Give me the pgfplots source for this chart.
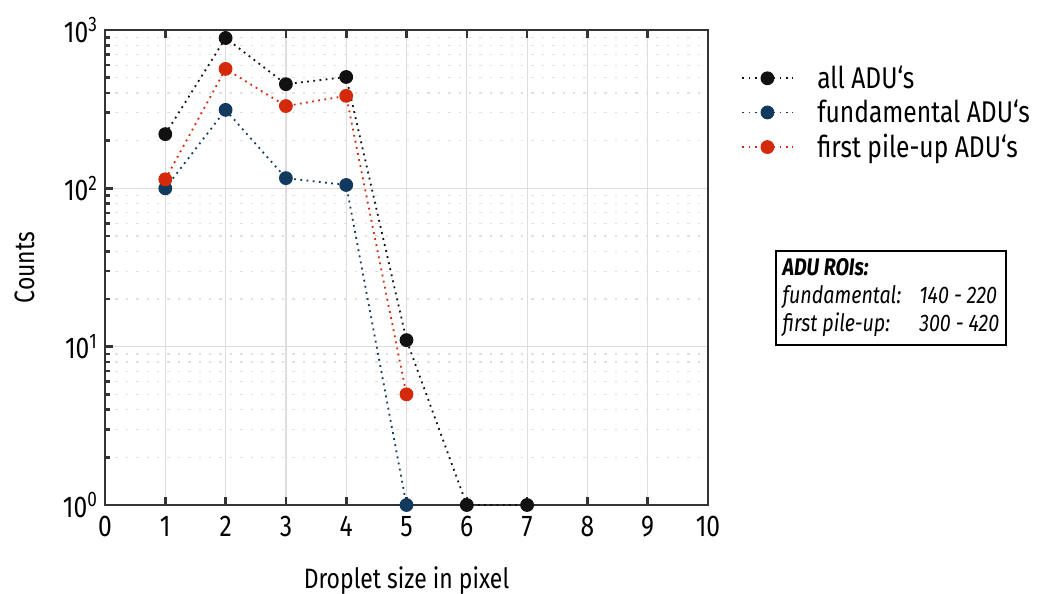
\documentclass[border=0pt]{standalone}
\usepackage{pgfplots}
\pgfplotsset{compat=1.18}
\usepackage{fontspec}
\setmainfont{Fira Sans}[FakeStretch=0.82]
\definecolor{cblack}{HTML}{111111}
\definecolor{cblue}{HTML}{12395E}
\definecolor{cred}{HTML}{D42A0B}
\definecolor{cframe}{HTML}{333333}
\definecolor{cgrid}{HTML}{DDDDDD}
\begin{document}
\begin{tikzpicture}
\begin{axis}[
  name=ax,
  width=301.5pt, height=237.5pt, scale only axis,
  ymode=log, xmin=0, xmax=10, ymin=1, ymax=1000,
  xtick={0,1,...,10},
  ytick={1,10,100,1000},
  yticklabels={10\textsuperscript{0},10\textsuperscript{1},10\textsuperscript{2},10\textsuperscript{3}},
  /pgf/number format/assume math mode=true,
  tick label style={font=\fontsize{15}{18}\selectfont},
  xticklabel style={yshift=-2pt},
  label style={font=\fontsize{14}{16}\selectfont},
  xlabel style={yshift=-8pt},
  ylabel style={yshift=7pt},
  xlabel={Droplet size in pixel},
  ylabel={Counts},
  axis line style={cframe, line width=1.3pt},
  tick style={cframe, line width=1.3pt},
  major tick length=4pt, minor tick length=2.5pt,
  tick align=inside,
  xtick pos=both, ytick pos=left,
  grid=both,
  major grid style={cgrid, line width=0.6pt},
  minor grid style={cgrid!90, line width=0.6pt, dash pattern=on 1.2pt off 4pt},
  minor x tick num=0,
  legend style={at={(rel axis cs:1.045,0.943)}, anchor=north west, draw=none, fill=none,
    font=\fontsize{15}{15}\selectfont, row sep=0.3pt},
  legend cell align=left,
  legend image code/.code={\draw[mark repeat=2,mark phase=2] plot coordinates {(0pt,0pt) (12.5pt,0pt) (25pt,0pt)};},
  every axis plot/.append style={line width=0.9pt, dash pattern=on 0.9pt off 2.2pt, mark=*, mark size=3pt},
]
\addplot[cblack, mark options={solid, fill=cblack, draw=cblack}] coordinates {(1,220) (2,890) (3,455) (4,505) (5,11) (6,1) (7,1)};
\addlegendentry{\hspace{10pt}all ADU‘s}
\addplot[cblue, mark options={solid, fill=cblue, draw=cblue}] coordinates {(1,100) (2,313) (3,116) (4,105) (5,1)};
\addlegendentry{\hspace{10pt}fundamental ADU‘s}
\addplot[cred, mark options={solid, fill=cred, draw=cred}] coordinates {(1,114) (2,568) (3,331) (4,384) (5,5)};
\addlegendentry{\hspace{10pt}first pile-up ADU‘s}
\coordinate (bl) at (rel axis cs:0,0);
\coordinate (boxtl) at (rel axis cs:1.111,0.537);
\end{axis}
\node[draw=black, line width=1pt, anchor=north west, inner sep=2.5pt, fill=white,
  font=\fontsize{12}{14}\selectfont\itshape, minimum width=115pt, align=left] at (boxtl)
  {\begin{tabular}{@{}l@{\hspace{9pt}}l@{}}
   \multicolumn{2}{@{}l}{\bfseries ADU ROIs:}\\
   fundamental: & 140 - 220\\
   first pile-up: & 300 - 420
   \end{tabular}};
\pgfresetboundingbox
\path (bl) ++(-52.5pt,-44.5pt) rectangle ++(519.5pt,297pt);
\end{tikzpicture}
\end{document}
